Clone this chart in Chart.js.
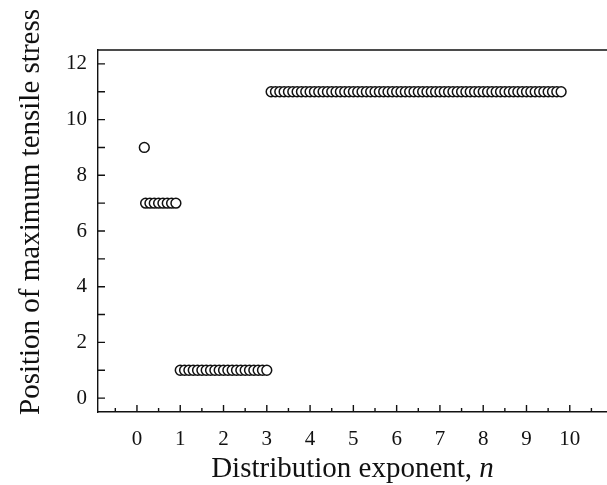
<!DOCTYPE html>
<html lang="en">
<head>
    <meta charset="UTF-8">
    <title>Position of maximum tensile stress</title>
    <script src="https://cdn.jsdelivr.net/npm/chart.js"></script>
    <style>
        html, body { margin: 0; padding: 0; background: #fff; overflow: hidden; }
        canvas { display: block; }
    </style>
</head>
<body>
<canvas id="stressChart" width="607" height="485"></canvas>

<script>
    // distribution exponent n and the position
    const nA = [0.17];
    const posA = [9];
    const nB = [0.2, 0.3, 0.4, 0.5, 0.6, 0.7, 0.8, 0.9];
    const posB = [7, 7, 7, 7, 7, 7, 7, 7];
    const nC = [1.0, 1.1, 1.2, 1.3, 1.4, 1.5, 1.6, 1.7, 1.8, 1.9, 2.0,
                2.1, 2.2, 2.3, 2.4, 2.5, 2.6, 2.7, 2.8, 2.9, 3.0];
    const posC = [1, 1, 1, 1, 1, 1, 1, 1, 1, 1, 1,
                  1, 1, 1, 1, 1, 1, 1, 1, 1, 1];
    const nD = [3.1, 3.2, 3.3, 3.4, 3.5, 3.6, 3.7, 3.8, 3.9, 4.0,
                4.1, 4.2, 4.3, 4.4, 4.5, 4.6, 4.7, 4.8, 4.9, 5.0,
                5.1, 5.2, 5.3, 5.4, 5.5, 5.6, 5.7, 5.8, 5.9, 6.0,
                6.1, 6.2, 6.3, 6.4, 6.5, 6.6, 6.7, 6.8, 6.9, 7.0,
                7.1, 7.2, 7.3, 7.4, 7.5, 7.6, 7.7, 7.8, 7.9, 8.0,
                8.1, 8.2, 8.3, 8.4, 8.5, 8.6, 8.7, 8.8, 8.9, 9.0,
                9.1, 9.2, 9.3, 9.4, 9.5, 9.6, 9.7, 9.8];
    const posD = [11, 11, 11, 11, 11, 11, 11, 11, 11, 11,
                  11, 11, 11, 11, 11, 11, 11, 11, 11, 11,
                  11, 11, 11, 11, 11, 11, 11, 11, 11, 11,
                  11, 11, 11, 11, 11, 11, 11, 11, 11, 11,
                  11, 11, 11, 11, 11, 11, 11, 11, 11, 11,
                  11, 11, 11, 11, 11, 11, 11, 11, 11, 11,
                  11, 11, 11, 11, 11, 11, 11, 11];

    const xTicks = [0, 1, 2, 3, 4, 5, 6, 7, 8, 9, 10];
    const xMinorTicks = [-0.5, 0.5, 1.5, 2.5, 3.5, 4.5, 5.5, 6.5, 7.5, 8.5, 9.5, 10.5];
    const yTicks = [0, 2, 4, 6, 8, 10, 12];
    const yMinorTicks = [1, 3, 5, 7, 9, 11];

    const xTitle = 'Distribution exponent, ';
    const xTitleVar = 'n';
    const yTitle = 'Position of maximum tensile stress';

    const serif = '"Liberation Serif", "DejaVu Serif", serif';

    const points = [];
    [[nA, posA], [nB, posB], [nC, posC], [nD, posD]].forEach(([xs, ys]) => {
        xs.forEach((x, i) => points.push({ x: x, y: ys[i] }));
    });

    // inward ticks, top frame line and the axis titles
    const framePlugin = {
        id: 'frame',
        afterDraw(chart) {
            const ctx = chart.ctx;
            const area = chart.chartArea;
            const xs = chart.scales.x;
            const ys = chart.scales.y;
            ctx.save();
            ctx.strokeStyle = '#111';
            ctx.lineWidth = 1.4;
            ctx.beginPath();
            ctx.moveTo(area.left, area.top);
            ctx.lineTo(area.right, area.top);
            xTicks.forEach(v => {
                const px = xs.getPixelForValue(v);
                ctx.moveTo(px, area.bottom);
                ctx.lineTo(px, area.bottom - 7);
            });
            xMinorTicks.forEach(v => {
                const px = xs.getPixelForValue(v);
                ctx.moveTo(px, area.bottom);
                ctx.lineTo(px, area.bottom - 4);
            });
            yTicks.concat(yMinorTicks).forEach(v => {
                const py = ys.getPixelForValue(v);
                ctx.moveTo(area.left, py);
                ctx.lineTo(area.left + 7, py);
            });
            ctx.stroke();

            ctx.fillStyle = '#111';
            ctx.font = '29px ' + serif;
            const w1 = ctx.measureText(xTitle).width;
            ctx.font = 'italic 29px ' + serif;
            const w2 = ctx.measureText(xTitleVar).width;
            const cx = (area.left + area.right) / 2;
            const start = cx - (w1 + w2) / 2;
            ctx.textBaseline = 'alphabetic';
            ctx.textAlign = 'left';
            ctx.font = '29px ' + serif;
            ctx.fillText(xTitle, start, 477);
            ctx.font = 'italic 29px ' + serif;
            ctx.fillText(xTitleVar, start + w1, 477);

            ctx.translate(39, 212);
            ctx.rotate(-Math.PI / 2);
            ctx.textAlign = 'center';
            ctx.font = '29px ' + serif;
            ctx.fillText(yTitle, 0, 0);
            ctx.restore();
        }
    };

    const ctx = document.getElementById('stressChart').getContext('2d');
    new Chart(ctx, {
        type: 'scatter',
        data: {
            datasets: [{
                data: points,
                pointStyle: 'circle',
                pointRadius: 4.9,
                pointHoverRadius: 4.9,
                pointBackgroundColor: '#fff',
                pointBorderColor: '#111',
                pointBorderWidth: 1.5
            }]
        },
        options: {
            responsive: false,
            animation: false,
            layout: {
                autoPadding: false,
                padding: { top: 50, right: 0, left: 0, bottom: 0 }
            },
            plugins: {
                legend: { display: false },
                tooltip: { enabled: false }
            },
            scales: {
                x: {
                    type: 'linear',
                    min: -0.9,
                    max: 10.86,
                    afterBuildTicks: scale => {
                        scale.ticks = xTicks.map(v => ({ value: v }));
                    },
                    afterFit: scale => {
                        scale.height = 73;
                        scale.paddingLeft = 0;
                        scale.paddingRight = 0;
                    },
                    grid: { display: false },
                    border: { display: true, color: '#111', width: 1.4 },
                    ticks: {
                        color: '#111',
                        padding: 7,
                        maxRotation: 0,
                        autoSkip: false,
                        font: { family: serif, size: 21 }
                    }
                },
                y: {
                    type: 'linear',
                    min: -0.5,
                    max: 12.5,
                    afterBuildTicks: scale => {
                        scale.ticks = yTicks.map(v => ({ value: v }));
                    },
                    afterFit: scale => { scale.width = 98; },
                    grid: { display: false },
                    border: { display: true, color: '#111', width: 1.4 },
                    ticks: {
                        color: '#111',
                        padding: 3,
                        autoSkip: false,
                        font: { family: serif, size: 21 }
                    }
                }
            }
        },
        plugins: [framePlugin]
    });
</script>
</body>
</html>
